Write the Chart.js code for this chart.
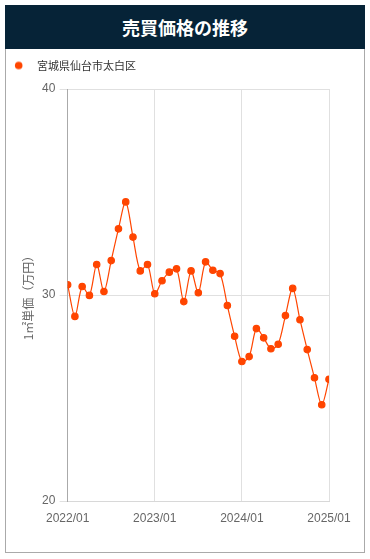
<!DOCTYPE html>
<html><head><meta charset="utf-8">
<script src="https://cdn.jsdelivr.net/npm/chart.js@4/dist/chart.umd.min.js"></script>
<style>
html,body{margin:0;padding:0;background:#fff;}
#title{position:absolute;left:5px;top:5px;width:360px;height:44px;background:#062337;color:#fff;font:bold 18px "Noto Sans CJK JP",sans-serif;text-align:center;line-height:44px;}
#box{position:absolute;left:5px;top:49px;width:358px;height:503px;border:1px solid #aaa;border-top:none;}
#wrap{position:absolute;left:0;top:0;width:358px;height:503px;}
</style></head><body>
<div id="title">売買価格の推移</div>
<div id="box"><div id="wrap"><canvas id="c"></canvas></div></div>
<script>
const seriesName = "宮城県仙台市太白区";
const months = ["2022/01","2022/02","2022/03","2022/04","2022/05","2022/06","2022/07","2022/08","2022/09","2022/10","2022/11","2022/12",
"2023/01","2023/02","2023/03","2023/04","2023/05","2023/06","2023/07","2023/08","2023/09","2023/10","2023/11","2023/12",
"2024/01","2024/02","2024/03","2024/04","2024/05","2024/06","2024/07","2024/08","2024/09","2024/10","2024/11","2024/12","2025/01"];
const prices = [30.5,28.96,30.41,29.98,31.48,30.17,31.67,33.21,34.52,32.81,31.17,31.48,
30.06,30.69,31.11,31.27,29.68,31.17,30.11,31.61,31.2,31.04,29.49,28.0,
26.77,27.01,28.37,27.92,27.39,27.61,29.0,30.32,28.8,27.35,25.98,24.67,25.91];
const yTicks = [20,30,40];
const lineColor = '#ff4500';

// legend marker: circle drawn left of centre so the text sits further right
const marker = document.createElement('canvas');
marker.width = 24; marker.height = 10;
{ const g = marker.getContext('2d'); g.fillStyle = lineColor; g.beginPath(); g.arc(4.7, 5, 3.8, 0, Math.PI*2); g.fill(); }

const pts = prices.map((v,i)=>({x:i,y:v}));
const legendMargin = {id:'legendMargin',beforeInit(chart){
  const fit = chart.legend.fit;
  chart.legend.fit = function(){ fit.bind(chart.legend)(); this.height += 8; };
}};
new Chart(document.getElementById('c'),{
  type:'line',
  data:{datasets:[{label:seriesName,data:pts,borderColor:lineColor,backgroundColor:lineColor,
    borderWidth:1.2,pointRadius:3.2,pointHoverRadius:3.2,tension:0.3,fill:false}]},
  options:{
    responsive:true,maintainAspectRatio:false,animation:false,
    layout:{padding:{left:4.5,right:35,top:1,bottom:16.6}},
    plugins:{
      legend:{align:'start',labels:{usePointStyle:true,pointStyle:marker,boxWidth:11,boxHeight:10,color:'#333',
        font:{size:11,family:'"Noto Sans CJK JP", sans-serif'},padding:10}},
      tooltip:{enabled:false}
    },
    scales:{
      x:{type:'linear',min:0,max:months.length-1,
        ticks:{stepSize:12,color:'#666',padding:10,font:{size:12,family:'"Liberation Sans", Arial, sans-serif'},
          callback:(v)=>months[v]??'',maxRotation:0},
        grid:{color:'#e0e0e0',drawTicks:false},border:{color:'#d8d8d8'}},
      y:{min:20,max:40,
        afterBuildTicks:(s)=>{s.ticks=yTicks.map(v=>({value:v}));},
        ticks:{color:'#666',padding:4.2,font:{size:12,family:'"Liberation Sans", Arial, sans-serif'}},
        grid:{color:'#e0e0e0',tickLength:8},border:{color:'#aaa'},
        title:{display:true,text:'1㎡単価（万円）',color:'#666',padding:{top:11,bottom:2},
          font:{size:12,family:'"Noto Sans CJK JP", sans-serif'}}}
    }
  },
  plugins:[legendMargin]
});
</script></body></html>
